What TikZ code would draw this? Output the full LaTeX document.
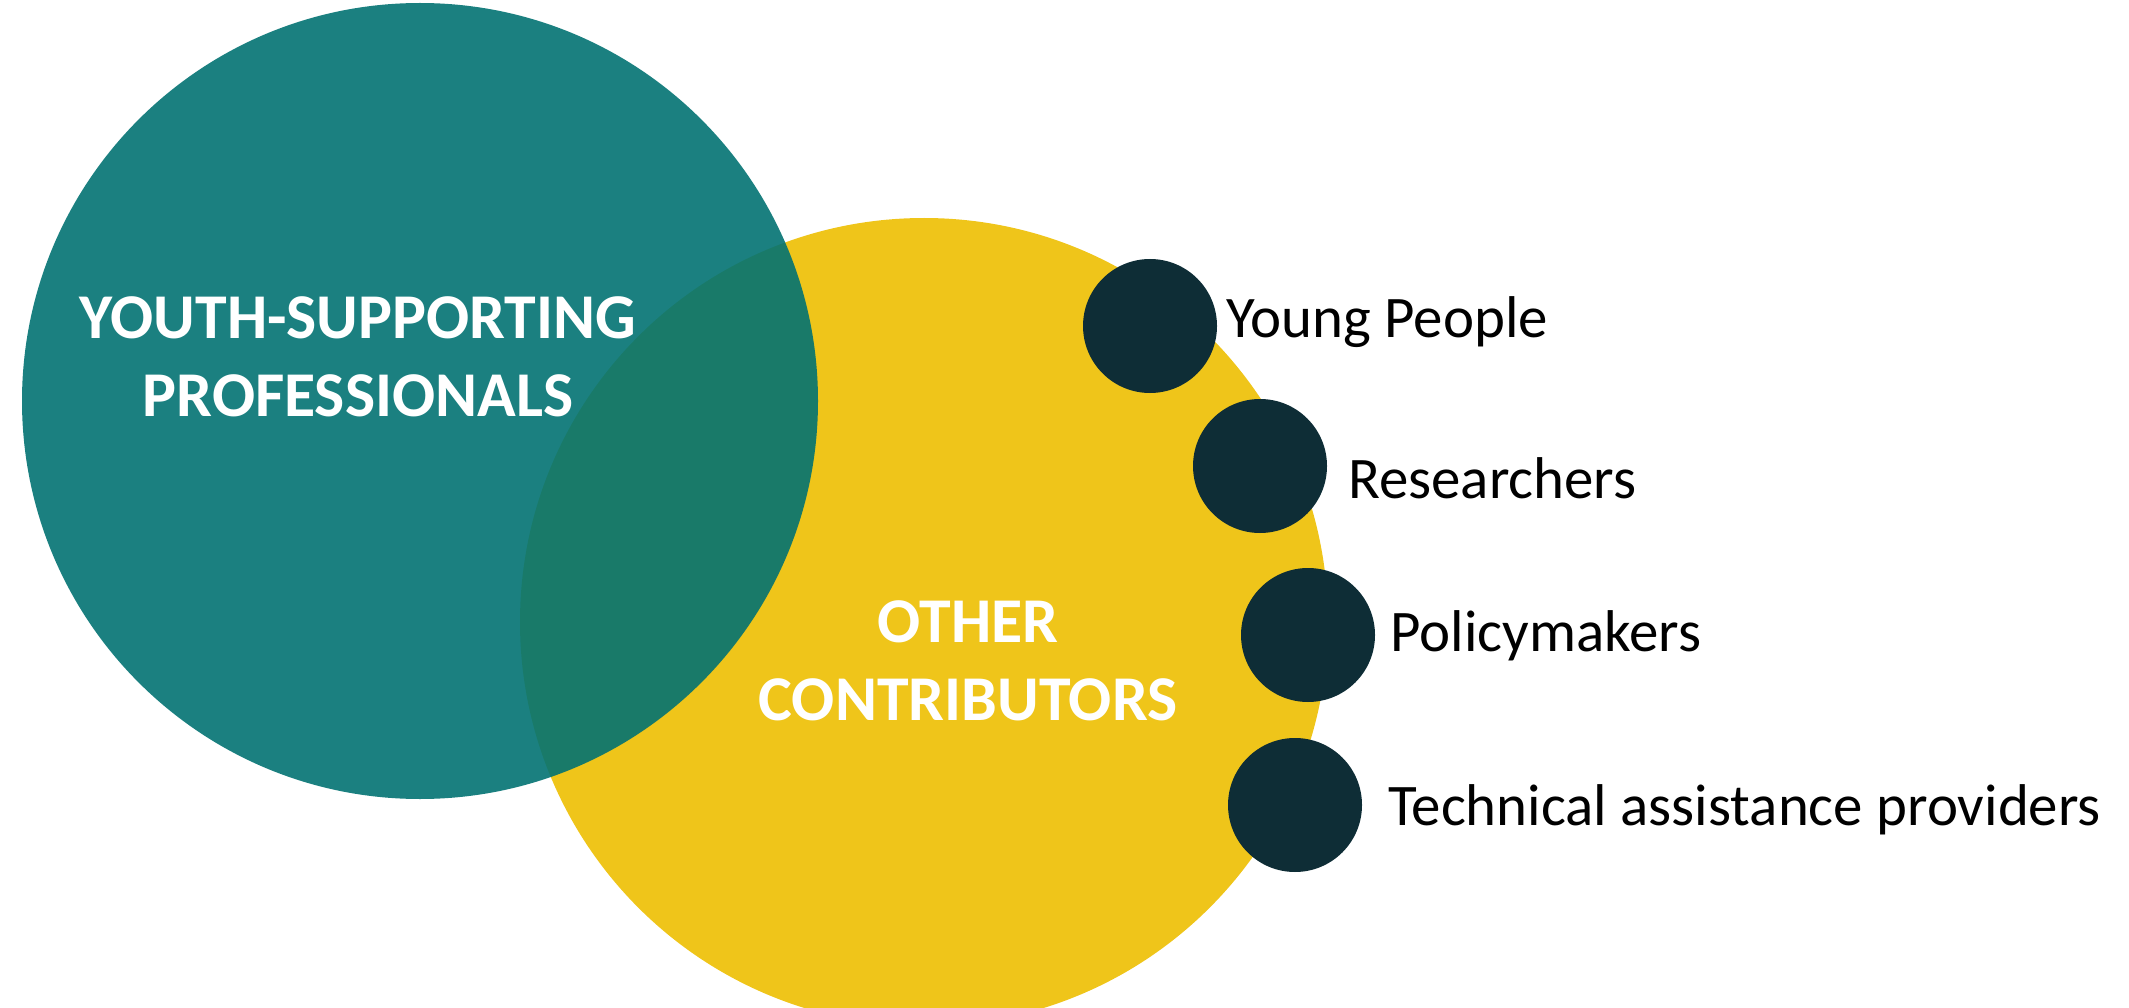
\documentclass[tikz,border=0pt]{standalone}
\usepackage{fontspec}
\setmainfont{Carlito}
\definecolor{tealc}{RGB}{2,114,114}
\definecolor{yellowc}{RGB}{239,197,26}
\definecolor{darkc}{RGB}{14,45,54}
\begin{document}
\begin{tikzpicture}[x=1pt,y=-1pt,
  bigtext/.style={text=white,font=\fontsize{63.8}{78}\selectfont\bfseries,align=center},
  dot/.style={circle,fill=darkc,minimum size=134pt,inner sep=0pt},
  lbl/.style={anchor=west,font=\fontsize{58.9}{70}\selectfont,text=black,inner sep=0pt}]
\useasboundingbox (0,0) rectangle (2129,1008);
\clip (0,0) rectangle (2129,1008);
\fill[yellowc] (924,622) circle (404);
\fill[tealc,fill opacity=0.9] (420,401) circle (398);
\node[bigtext] (ysp) at (358,357) {YOUTH-SUPPORTING\\PROFESSIONALS};
\node[bigtext] (oc) at (968,661) {OTHER\\CONTRIBUTORS};
\node[dot] (d1) at (1150,326) {};
\node[dot] (d2) at (1260,466) {};
\node[dot] (d3) at (1308,635) {};
\node[dot] (d4) at (1295,805) {};
\node[lbl] (l1) at (1226,322) {Young People};
\node[lbl] (l2) at (1348,478) {Researchers};
\node[lbl] (l3) at (1390,636) {Policymakers};
\node[lbl] (l4) at (1388,810) {Technical assistance providers};
\end{tikzpicture}
\end{document}
